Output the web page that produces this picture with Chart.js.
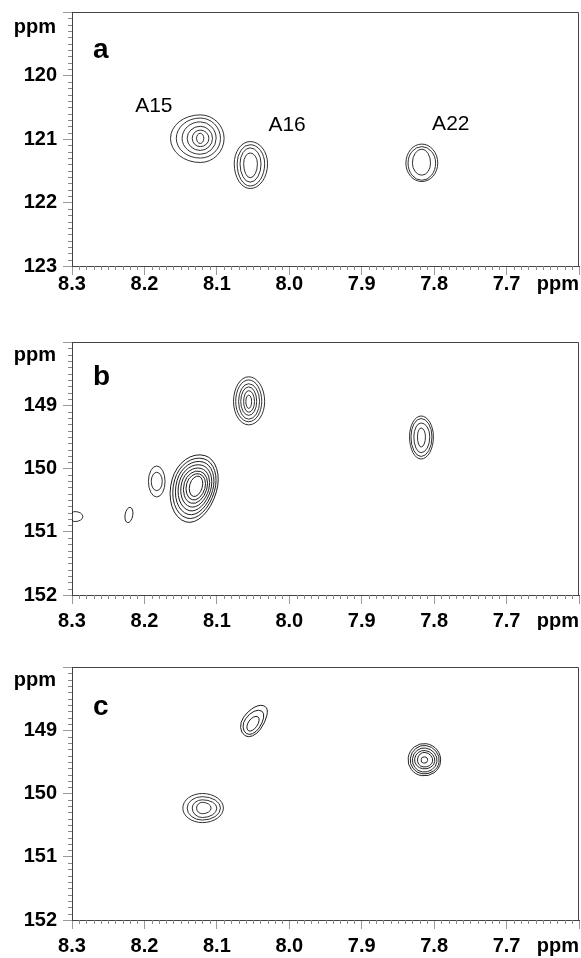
<!DOCTYPE html>
<html>
<head>
<meta charset="utf-8">
<script src="https://cdn.jsdelivr.net/npm/chart.js@4.4.1/dist/chart.umd.min.js"></script>
<style>
  html, body { margin: 0; padding: 0; background: #fff; }
  #wrap { position: relative; width: 581px; height: 958px; }
  canvas { position: absolute; left: 0; }
</style>
</head>
<body>
<div id="wrap">
  <canvas id="pa" width="581" height="300" style="top:0px"></canvas>
  <canvas id="pb" width="581" height="330" style="top:300px"></canvas>
  <canvas id="pc" width="581" height="328" style="top:630px"></canvas>
</div>
<script>
// 1H shift (ppm) tick labels, shared by all three panels
const xMajor = [8.3, 8.2, 8.1, 8.0, 7.9, 7.8, 7.7]
const xEnd = 7.6

// 15N / 31P axis tick labels
const yLabelsA = [120, 121, 122, 123]
const yLabelsBC = [149, 150, 151, 152]

// panel a: peak maxima, contour tilt (deg) and contour levels [left, right, up, down] in ppm
const peakNamesA = ["A15", "A16", "A22"]
const nameXA = [8.187, 8.003, 7.777]
const nameYA = [120.49, 120.78, 120.76]
const peakXA = [8.123, 8.054, 7.817]
const peakYA = [120.99, 121.39, 121.38]
const tiltA = [0, 0, 0]
const levelsA = [
    [[0.041, 0.033, 0.37, 0.38], [0.033, 0.028, 0.32, 0.31], [0.025, 0.022, 0.26, 0.25], [0.018, 0.017, 0.19, 0.19], [0.011, 0.012, 0.13, 0.13], [0.005, 0.005, 0.08, 0.08]],
    [[0.022, 0.024, 0.35, 0.39], [0.018, 0.020, 0.30, 0.35], [0.014, 0.015, 0.25, 0.29], [0.009, 0.010, 0.17, 0.22]],
    [[0.022, 0.022, 0.30, 0.29], [0.019, 0.019, 0.26, 0.27], [0.013, 0.012, 0.22, 0.19]]
]

// panel b: A16, A22, A15, A15 shoulder, two small islands
const peakXB = [8.056, 7.818, 8.1285, 8.183, 8.296, 8.2214]
const peakYB = [148.94, 149.50, 150.277, 150.205, 150.76, 150.735]
const tiltB = [0, 0, 16, 0, 0, 10]
const levelsB = [
    [[0.021, 0.022, 0.39, 0.37], [0.018, 0.018, 0.34, 0.32], [0.014, 0.015, 0.28, 0.28], [0.011, 0.011, 0.23, 0.22], [0.007, 0.008, 0.17, 0.17], [0.004, 0.004, 0.10, 0.11]],
    [[0.016, 0.017, 0.33, 0.35], [0.014, 0.015, 0.29, 0.31], [0.010, 0.012, 0.22, 0.25], [0.005, 0.006, 0.14, 0.16]],
    [[0.0345, 0.0290, 0.500, 0.590], [0.0310, 0.0262, 0.447, 0.528], [0.0275, 0.0235, 0.394, 0.466], [0.0240, 0.0207, 0.341, 0.404],
     [0.0205, 0.0180, 0.288, 0.342], [0.0170, 0.0152, 0.240, 0.282], [0.0135, 0.0124, 0.198, 0.226], [0.0090, 0.0085, 0.160, 0.170]],
    [[0.0115, 0.0115, 0.245, 0.245], [0.0076, 0.0076, 0.145, 0.145]],
    [[0.006, 0.011, 0.079, 0.079]],
    [[0.0053, 0.0053, 0.122, 0.122]]
]

// panel c: A16, A15, A22
const peakXC = [8.050, 8.120, 7.814]
const peakYC = [148.90, 150.23, 149.47]
const tiltC = [35, 0, 8]
const levelsC = [
    [[0.0160, 0.0125, 0.335, 0.225], [0.0125, 0.0100, 0.245, 0.185], [0.0068, 0.0060, 0.135, 0.130]],
    [[0.027, 0.029, 0.23, 0.23], [0.021, 0.025, 0.18, 0.19], [0.014, 0.020, 0.13, 0.15], [0.008, 0.012, 0.09, 0.09]],
    [[0.022, 0.023, 0.26, 0.25], [0.019, 0.021, 0.23, 0.22], [0.016, 0.018, 0.19, 0.19], [0.013, 0.015, 0.15, 0.14], [0.009, 0.012, 0.12, 0.11], [0.004, 0.005, 0.05, 0.05]]
]

const FONT = "'Liberation Sans', Arial, Helvetica, sans-serif"
const TICK_LEN = 9

// contours: four quarter ellipses joined at the peak maximum
const contourPlugin = {
    id: "contours",
    afterDatasetsDraw(chart, args, opts) {
        const { ctx, chartArea } = chart
        const xs = chart.scales.x, ys = chart.scales.y
        const pts = chart.data.datasets[0].data
        ctx.save()
        ctx.beginPath()
        ctx.rect(chartArea.left, chartArea.top, chartArea.width, chartArea.height)
        ctx.clip()
        ctx.strokeStyle = "#1b1b1b"
        ctx.lineWidth = 0.9
        pts.forEach((p, i) => {
            const cx = xs.getPixelForValue(p.x)
            const cy = ys.getPixelForValue(p.y)
            opts.levels[i].forEach(([l, r, u, d]) => {
                const L = Math.abs(xs.getPixelForValue(p.x + l) - cx)
                const R = Math.abs(xs.getPixelForValue(p.x - r) - cx)
                const U = Math.abs(ys.getPixelForValue(p.y - u) - cy)
                const D = Math.abs(ys.getPixelForValue(p.y + d) - cy)
                ctx.save()
                ctx.translate(cx, cy)
                ctx.rotate(opts.tilt[i] * Math.PI / 180)
                ctx.beginPath()
                ctx.ellipse(0, 0, R, D, 0, 0, Math.PI / 2)
                ctx.ellipse(0, 0, L, D, 0, Math.PI / 2, Math.PI)
                ctx.ellipse(0, 0, L, U, 0, Math.PI, Math.PI * 1.5)
                ctx.ellipse(0, 0, R, U, 0, Math.PI * 1.5, Math.PI * 2)
                ctx.closePath()
                ctx.stroke()
                ctx.restore()
            })
        })
        ctx.restore()
    }
}

// box, minor ticks, "ppm" units, panel letter and peak names
const framePlugin = {
    id: "frame",
    afterDraw(chart, args, opts) {
        const { ctx, chartArea } = chart
        const xs = chart.scales.x, ys = chart.scales.y
        const { left, right, top, bottom } = chartArea
        ctx.save()
        ctx.strokeStyle = "#444"
        ctx.lineWidth = 1
        ctx.beginPath()
        ctx.moveTo(left, top + 0.5)
        ctx.lineTo(right - 0.5, top + 0.5)
        ctx.lineTo(right - 0.5, bottom)
        ctx.stroke()

        ctx.strokeStyle = "#888"
        ctx.beginPath()
        for (let i = 1; i < 70; i++) {
            if (i % 10 === 0) continue
            const px = Math.round(xs.getPixelForValue(xEnd + i / 100)) + 0.5
            ctx.moveTo(px, bottom)
            ctx.lineTo(px, bottom + 4)
        }
        for (let i = 1; i < 40; i++) {
            if (i % 10 === 0) continue
            const py = Math.round(ys.getPixelForValue(opts.yMin + i / 10)) + 0.5
            ctx.moveTo(left - 4, py)
            ctx.lineTo(left, py)
        }
        ctx.stroke()

        ctx.fillStyle = "#000"
        ctx.font = "bold 20px " + FONT
        ctx.textAlign = "right"
        ctx.textBaseline = "alphabetic"
        ctx.fillText("ppm", 56, top + opts.ppmDy)
        ctx.textBaseline = "middle"
        ctx.fillText("ppm", 579, bottom + TICK_LEN + opts.xPad + 12)

        ctx.textAlign = "left"
        ctx.textBaseline = "alphabetic"
        ctx.font = "bold 28px " + FONT
        ctx.fillText(opts.letter, 93, top + opts.letterDy)

        if (opts.names) {
            ctx.font = "21px " + FONT
            ctx.textAlign = "center"
            ctx.textBaseline = "middle"
            opts.names.forEach((n, i) => {
                ctx.fillText(n, xs.getPixelForValue(opts.nameX[i]), ys.getPixelForValue(opts.nameY[i]))
            })
        }
        ctx.restore()
    }
}

function makePanel(id, p) {
    const ctx = document.getElementById(id).getContext("2d")
    const yTicks = [p.yMin].concat(p.yLabels)
    return new Chart(ctx, {
        type: "scatter",
        data: {
            datasets: [{
                data: p.px.map((x, i) => ({ x: x, y: p.py[i] })),
                pointRadius: 0,
                showLine: false
            }]
        },
        options: {
            responsive: false,
            animation: false,
            events: [],
            layout: { padding: { top: p.padTop, right: 2, left: 0, bottom: 0 } },
            plugins: {
                legend: { display: false },
                tooltip: { enabled: false },
                contours: { levels: p.levels, tilt: p.tilt },
                frame: {
                    yMin: p.yMin, xPad: p.xPad, letter: p.letter, letterDy: p.letterDy, ppmDy: p.ppmDy,
                    names: p.names, nameX: p.nameX, nameY: p.nameY
                }
            },
            scales: {
                x: {
                    type: "linear",
                    reverse: true,
                    min: xEnd,
                    max: xMajor[0],
                    afterBuildTicks: s => { s.ticks = xMajor.concat([xEnd]).map(v => ({ value: v })) },
                    afterFit: s => {
                        s.height = p.xH
                        s.paddingLeft = 0
                        s.paddingRight = 0
                    },
                    grid: { drawOnChartArea: false, tickLength: TICK_LEN, color: "#999", tickWidth: 1 },
                    border: { color: "#444", width: 1 },
                    ticks: {
                        padding: p.xPad,
                        maxRotation: 0,
                        autoSkip: false,
                        color: "#000",
                        font: { family: FONT, size: 20, weight: "bold" },
                        callback: v => (Math.abs(v - xEnd) < 1e-6 ? "" : v.toFixed(1))
                    }
                },
                y: {
                    type: "linear",
                    reverse: true,
                    min: p.yMin,
                    max: p.yLabels[p.yLabels.length - 1],
                    afterBuildTicks: s => { s.ticks = yTicks.map(v => ({ value: v })) },
                    afterFit: s => {
                        s.width = 72
                        s.paddingTop = 0
                        s.paddingBottom = 0
                    },
                    grid: { drawOnChartArea: false, tickLength: TICK_LEN, color: "#999", tickWidth: 1 },
                    border: { color: "#444", width: 1 },
                    ticks: {
                        padding: 6,
                        autoSkip: false,
                        color: "#000",
                        font: { family: FONT, size: 20, weight: "bold" },
                        callback: v => (v === p.yMin ? "" : String(v))
                    }
                }
            }
        },
        plugins: [contourPlugin, framePlugin]
    })
}

makePanel("pa", {
    yMin: 119, yLabels: yLabelsA, px: peakXA, py: peakYA, tilt: tiltA, levels: levelsA,
    padTop: 12, xH: 34, xPad: -3, letter: "a", letterDy: 46, ppmDy: 21,
    names: peakNamesA, nameX: nameXA, nameY: nameYA
})
makePanel("pb", {
    yMin: 148, yLabels: yLabelsBC, px: peakXB, py: peakYB, tilt: tiltB, levels: levelsB,
    padTop: 42, xH: 35, xPad: 5, letter: "b", letterDy: 43, ppmDy: 18.5
})
makePanel("pc", {
    yMin: 148, yLabels: yLabelsBC, px: peakXC, py: peakYC, tilt: tiltC, levels: levelsC,
    padTop: 37, xH: 38, xPad: 5, letter: "c", letterDy: 48, ppmDy: 18.5
})
</script>
</body>
</html>
